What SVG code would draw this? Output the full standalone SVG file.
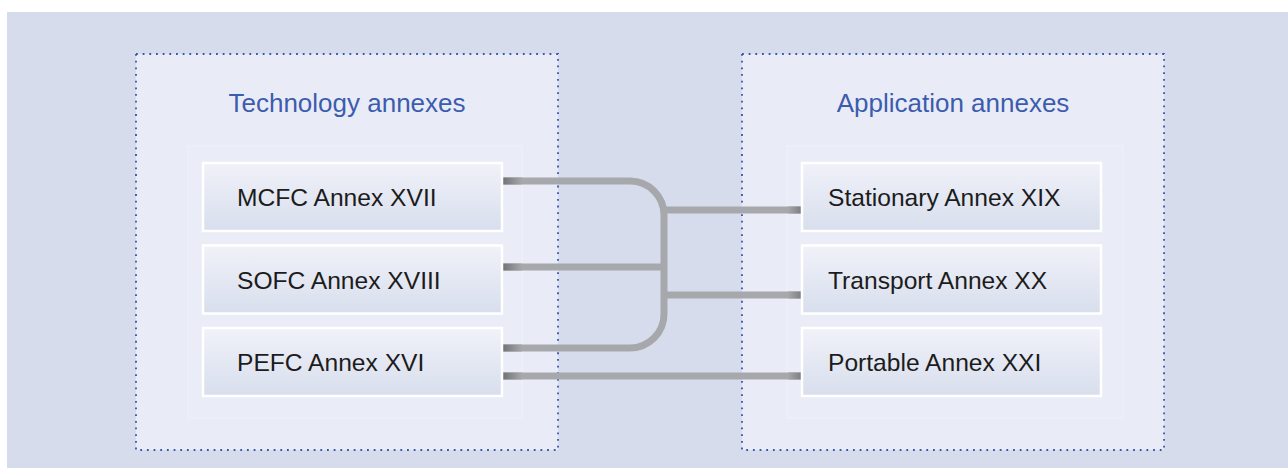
<svg xmlns="http://www.w3.org/2000/svg" width="1288" height="468" viewBox="0 0 1288 468">
  <style>
    .container { fill: #e9ecf6; stroke: #3556ad; stroke-width: 1.8; stroke-dasharray: 1.8 4.87; }
    .inner { fill: #eaedf7; stroke: #eff1f9; stroke-width: 1; }
    .title { font-family: "Liberation Sans", Arial, sans-serif; font-size: 26px; fill: #3c5cae; text-anchor: middle; }
    .node rect { fill: url(#nodeGrad); stroke: #ffffff; stroke-width: 2.5; }
    .node text { font-family: "Liberation Sans", Arial, sans-serif; font-size: 24.6px; fill: #1c1c1c; }
    .conn { fill: none; stroke: #a7a8ab; stroke-width: 7; }
  </style>
  <defs>
    <linearGradient id="nodeGrad" x1="0" y1="0" x2="0" y2="1">
      <stop offset="0" stop-color="#f0f2f9"/>
      <stop offset="1" stop-color="#d8deed"/>
    </linearGradient>
    <linearGradient id="endL" x1="0" y1="0" x2="1" y2="0">
      <stop offset="0" stop-color="#6f7073"/>
      <stop offset="1" stop-color="#a7a8ab"/>
    </linearGradient>
    <linearGradient id="endR" x1="1" y1="0" x2="0" y2="0">
      <stop offset="0" stop-color="#7a7b7e"/>
      <stop offset="1" stop-color="#a7a8ab"/>
    </linearGradient>
  </defs>

  <rect x="7" y="12" width="1281" height="456" fill="#d6dcec"/>

  <g id="technology-annexes">
    <rect class="container" x="136" y="54" width="422" height="396"/>
    <rect class="inner" x="188" y="146" width="334" height="272"/>
    <text class="title" x="347" y="112">Technology annexes</text>
  </g>
  <g id="application-annexes">
    <rect class="container" x="742" y="54" width="422" height="396"/>
    <rect class="inner" x="787" y="146" width="336" height="272"/>
    <text class="title" x="953" y="112">Application annexes</text>
  </g>

  <g id="connectors">
    <path class="conn" d="M502,181 H630 A34,34 0 0 1 664,215 V314 A34,34 0 0 1 630,348 H502"/>
    <path class="conn" d="M502,267 H664"/>
    <path class="conn" d="M664,210 H802"/>
    <path class="conn" d="M664,295 H802"/>
    <path class="conn" d="M502,376 H802"/>
    <rect x="502" y="177.5" width="20" height="7" fill="url(#endL)"/>
    <rect x="502" y="263.5" width="20" height="7" fill="url(#endL)"/>
    <rect x="502" y="344.5" width="20" height="7" fill="url(#endL)"/>
    <rect x="502" y="372.5" width="20" height="7" fill="url(#endL)"/>
    <rect x="788" y="206.5" width="14" height="7" fill="url(#endR)"/>
    <rect x="788" y="291.5" width="14" height="7" fill="url(#endR)"/>
    <rect x="788" y="372.5" width="14" height="7" fill="url(#endR)"/>
  </g>

  <g id="mcfc" class="node">
    <rect x="203" y="163" width="299" height="68"/>
    <text x="237" y="206">MCFC Annex XVII</text>
  </g>
  <g id="sofc" class="node">
    <rect x="203" y="245.5" width="299" height="68"/>
    <text x="237" y="288.5">SOFC Annex XVIII</text>
  </g>
  <g id="pefc" class="node">
    <rect x="203" y="328" width="299" height="68"/>
    <text x="237" y="371">PEFC Annex XVI</text>
  </g>
  <g id="stationary" class="node">
    <rect x="802" y="163" width="299" height="68"/>
    <text x="828" y="206">Stationary Annex XIX</text>
  </g>
  <g id="transport" class="node">
    <rect x="802" y="245.5" width="299" height="68"/>
    <text x="828" y="288.5">Transport Annex XX</text>
  </g>
  <g id="portable" class="node">
    <rect x="802" y="328" width="299" height="68"/>
    <text x="828" y="371">Portable Annex XXI</text>
  </g>
</svg>
